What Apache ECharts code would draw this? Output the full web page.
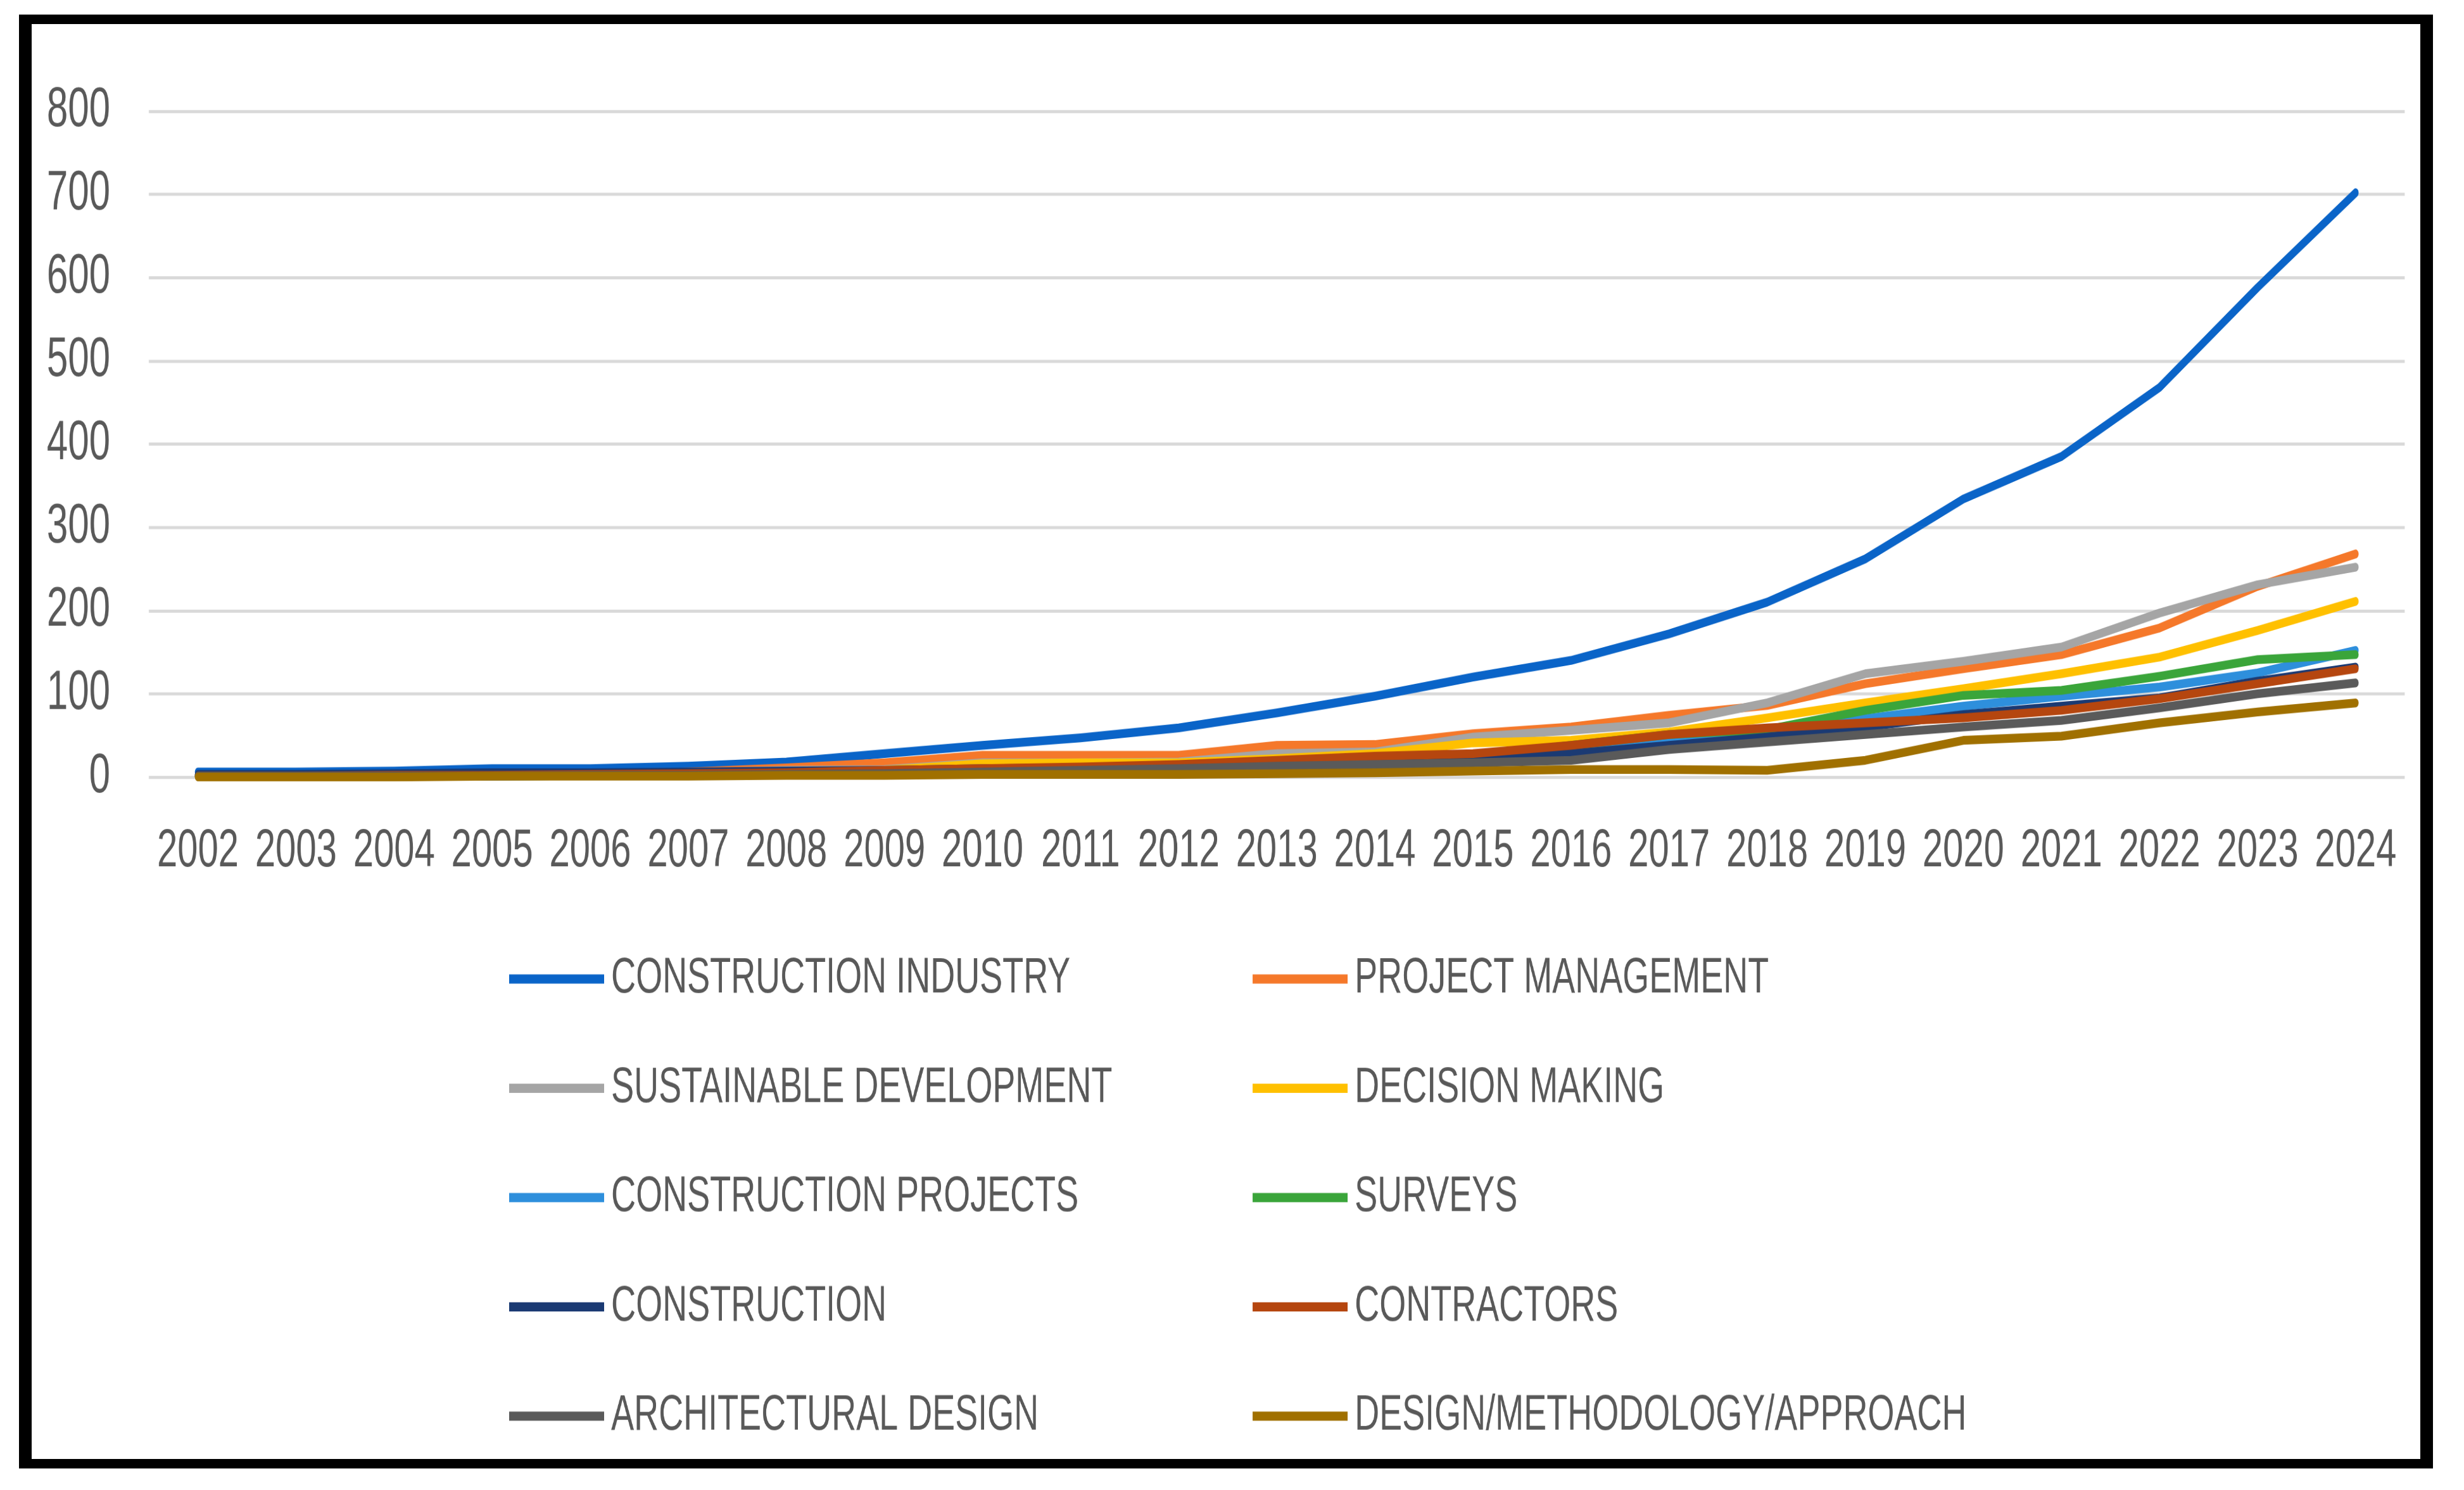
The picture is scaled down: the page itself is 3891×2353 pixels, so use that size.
<!DOCTYPE html>
<html>
<head>
<meta charset="utf-8">
<script src="https://cdn.jsdelivr.net/npm/echarts@6/dist/echarts.min.js"></script>
<style>
html,body{margin:0;padding:0;background:#fff;width:3891px;height:2353px;overflow:hidden;position:relative;}
#chart{position:absolute;left:0;top:0;width:3891px;height:1623px;transform:scaleY(1.45);transform-origin:0 0;}
#frame{position:absolute;left:30px;top:23px;width:3812px;height:2296px;box-sizing:border-box;border-style:solid;border-color:#000;border-width:15px 20px 15px 20px;pointer-events:none;}
</style>
</head>
<body>
<div id="chart"></div>
<div id="frame"></div>
<script>
const years = ['2002','2003','2004','2005','2006','2007','2008','2009','2010','2011','2012','2013','2014','2015','2016','2017','2018','2019','2020','2021','2022','2023','2024'];
const yTicks = [0,100,200,300,400,500,600,700,800];

const constructionIndustry   = [6,6,7,10,10,13,18,28,38,47,59,77,97,120,140,172,210,262,334,385,468,588,702];
const projectManagement      = [2,2,3,4,4,6,11,17,26,26,26,38,39,52,60,74,86,112,130,147,179,229,268];
const sustainableDevelopment = [1,1,2,3,3,5,8,9,17,17,18,28,30,48,56,65,89,124,139,156,197,231,252];
const decisionMaking         = [1,1,1,2,2,3,5,8,16,17,17,22,28,41,44,54,71,89,106,124,144,176,211];
const constructionProjects   = [1,1,1,2,2,3,4,6,8,9,10,13,16,25,35,45,55,70,85,97,108,125,152];
const surveys                = [1,1,1,1,2,2,3,5,6,7,8,11,15,25,38,51,57,80,98,104,121,141,147];
const construction           = [3,3,4,5,5,6,7,8,10,11,12,15,18,22,28,38,48,60,75,85,95,115,132];
const contractors            = [1,1,2,2,3,4,5,8,10,12,15,20,25,28,38,51,59,65,71,80,94,112,130];
const architecturalDesign    = [1,1,1,1,2,2,3,4,6,8,10,13,15,17,20,33,42,51,60,68,83,100,113];
const designMethodology      = [0,0,0,1,1,1,2,2,3,3,3,4,5,7,9,9,8,20,44,49,65,78,89];

const seriesNames = ['CONSTRUCTION INDUSTRY','PROJECT MANAGEMENT','SUSTAINABLE DEVELOPMENT','DECISION MAKING','CONSTRUCTION PROJECTS','SURVEYS','CONSTRUCTION','CONTRACTORS','ARCHITECTURAL DESIGN','DESIGN/METHODOLOGY/APPROACH'];
const seriesData = [constructionIndustry,projectManagement,sustainableDevelopment,decisionMaking,constructionProjects,surveys,construction,contractors,architecturalDesign,designMethodology];
const colors = ['#0A64C8','#F5782A','#A5A5A5','#FFC000','#2E8FDC','#3AA53A','#1B3A73','#B5460F','#5A5A5A','#A07000'];

const FONT = "'Liberation Sans', Arial, sans-serif";
const TXT = '#595959';

const chart = echarts.init(document.getElementById('chart'), null, {renderer:'canvas', devicePixelRatio: 1.5});

const legendCommon = {
  orient: 'vertical',
  icon: 'rect',
  itemWidth: 150,
  itemHeight: 10,
  itemGap: 65,
  textStyle: {fontFamily: FONT, fontSize: 54, color: TXT, lineHeight: 54, padding: [0,0,0,6]}
};

chart.setOption({
  animation: false,
  backgroundColor: '#fff',
  color: colors,
  grid: {left: 235, right: 94, top: 121, bottom: 777, containLabel: false},
  xAxis: {
    type: 'category',
    data: years,
    boundaryGap: true,
    axisLine: {show: false},
    axisTick: {show: false},
    axisLabel: {interval: 0, margin: 52, fontFamily: FONT, fontSize: 58, color: TXT}
  },
  yAxis: {
    type: 'value',
    min: yTicks[0],
    max: yTicks[yTicks.length-1],
    interval: 100,
    axisLine: {show: false},
    axisTick: {show: false},
    axisLabel: {margin: 61, fontFamily: FONT, fontSize: 60, color: TXT},
    splitLine: {lineStyle: {color: '#D9D9D9', width: 3.4}}
  },
  legend: [
    Object.assign({left: 799, top: 1034, data: [seriesNames[0],seriesNames[2],seriesNames[4],seriesNames[6],seriesNames[8]]}, legendCommon),
    Object.assign({left: 1973, top: 1034, data: [seriesNames[1],seriesNames[3],seriesNames[5],seriesNames[7],seriesNames[9]]}, legendCommon)
  ],
  series: seriesNames.map((n, i) => ({
    name: n,
    type: 'line',
    data: seriesData[i],
    showSymbol: false,
    symbol: 'none',
    lineStyle: {width: 9.5, color: colors[i], cap: 'round', join: 'round'},
    itemStyle: {color: colors[i]}
  }))
});
</script>
</body>
</html>
